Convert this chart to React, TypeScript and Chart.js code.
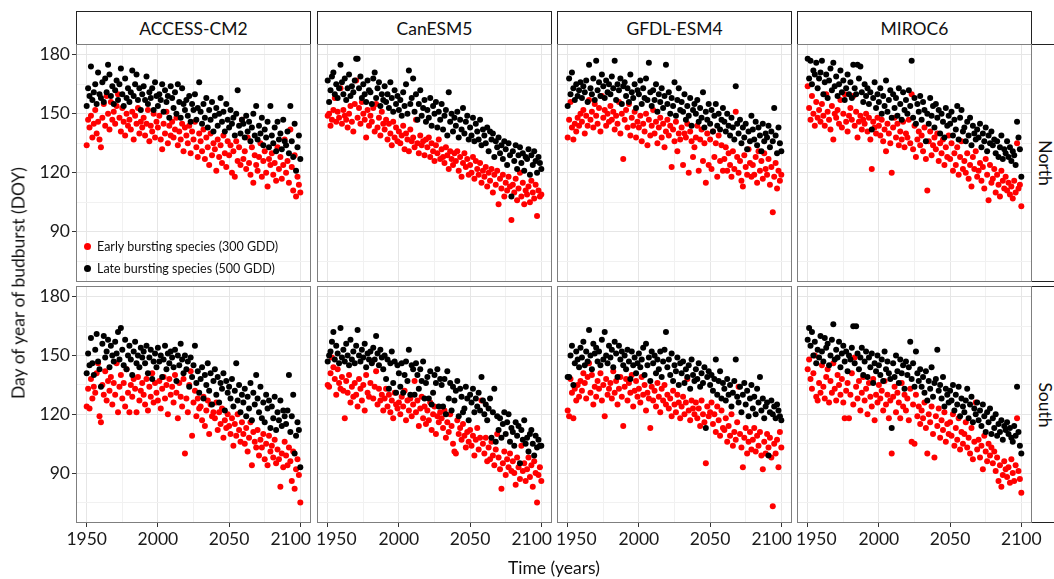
import React, { useEffect, useRef } from "react";
import { Chart, registerables } from "chart.js";

Chart.register(...registerables);

// ---------------- data ----------------
const FIRST_YEAR = 1950;
const LAST_YEAR = 2100;
const MODELS = ["ACCESS-CM2", "CanESM5", "GFDL-ESM4", "MIROC6"];
const REGIONS = ["North", "South"];
const X_TICK_LABELS = [1950, 2000, 2050, 2100];
const Y_TICK_LABELS = [90, 120, 150, 180];
const SERIES_LABELS = ["Early bursting species (300 GDD)", "Late bursting species (500 GDD)"];
const Y_TITLE = "Day of year of budburst (DOY)";
const X_TITLE = "Time (years)";

// ACCESS-CM2
const ACCESS_NORTH_LATE = [
  154, 163, 159, 174, 157, 161, 165, 155, 171, 160,
  158, 166, 156, 168, 161, 175, 170, 159, 164, 155,
  162, 167, 157, 165, 173, 160, 154, 168, 158, 163,
  156, 161, 172, 159, 165, 170, 157, 163, 152, 160,
  164, 157, 169, 155, 161, 158, 163, 152, 166, 159,
  154, 160, 157, 165, 151, 162, 156, 159, 148, 164,
  158, 153, 161, 150, 165, 156, 148, 163, 155, 152,
  157, 149, 159, 146, 155, 152, 160, 147, 153, 166,
  151, 145, 155, 148, 158, 143, 152, 147, 156, 141,
  149, 153, 144, 150, 158, 146, 151, 141, 155, 147,
  143, 152, 145, 148, 139, 150, 162, 144, 140, 147,
  145, 138, 149, 141, 146, 136, 143, 150, 139, 154,
  137, 144, 140, 148, 134, 142, 138, 146, 133, 154,
  139, 135, 143, 131, 146, 137, 140, 132, 147, 136,
  134, 141, 130, 154, 136, 128, 145, 121, 133, 139,
  127,
];
const ACCESS_NORTH_EARLY = [
  134, 147, 143, 149, 138, 145, 152, 140, 146, 137,
  133, 148, 155, 144, 159, 150, 142, 156, 147, 151,
  145, 154, 160, 148, 141, 153, 146, 139, 150, 144,
  147, 142, 151, 137, 149, 145, 153, 140, 146, 143,
  148, 139, 145, 152, 136, 144, 141, 150, 138, 146,
  143, 149, 137, 132, 145, 140, 151, 135, 144, 139,
  146, 138, 142, 148, 134, 141, 137, 145, 131, 143,
  139, 135, 144, 130, 141, 137, 146, 133, 128, 140,
  136, 131, 142, 127, 138, 133, 124, 140, 129, 135,
  132, 121, 137, 128, 134, 125, 139, 130, 123, 136,
  129, 134, 120, 131, 118, 136, 126, 133, 124, 147,
  127, 131, 122, 138, 125, 119, 133, 115, 129, 124,
  121, 128, 135, 118, 126, 131, 120, 113, 127, 124,
  130, 119, 125, 116, 133, 122, 128, 117, 124, 137,
  120, 126, 115, 142, 123, 111, 129, 108, 118, 114,
  110,
];
const ACCESS_SOUTH_LATE = [
  141, 151, 145, 159, 146, 140, 153, 161, 147, 143,
  134, 156, 160, 149, 152, 158, 144, 155, 150, 147,
  157, 151, 162, 148, 164, 153, 145, 158, 143, 150,
  155, 148, 140, 152, 157, 146, 150, 144, 154, 149,
  152, 146, 155, 141, 149, 153, 138, 147, 151, 144,
  154, 147, 150, 139, 148, 155, 143, 151, 146, 152,
  149, 144, 153, 137, 150, 145, 156, 148, 141, 150,
  143, 147, 134, 149, 139, 145, 155, 136, 142, 131,
  138, 144, 128, 140, 135, 146, 132, 141, 125, 137,
  143, 130, 139, 126, 136, 133, 141, 122, 137, 131,
  134, 128, 138, 124, 132, 146, 127, 135, 121, 130,
  126, 133, 119, 129, 123, 136, 117, 131, 125, 140,
  128, 121, 134, 118, 126, 116, 130, 123, 127, 113,
  124, 118, 129, 112, 121, 117, 127, 114, 122, 119,
  115, 122, 140, 111, 119, 130, 100, 109, 116, 112,
  93,
];
const ACCESS_SOUTH_EARLY = [
  124, 133, 123, 138, 128, 134, 131, 141, 146, 119,
  116, 135, 130, 142, 127, 137, 132, 139, 125, 136,
  130, 146, 121, 134, 140, 128, 136, 124, 143, 131,
  121, 135, 129, 138, 133, 121, 139, 127, 132, 136,
  130, 125, 138, 122, 134, 129, 141, 126, 136, 131,
  127, 137, 123, 133, 139, 128, 135, 120, 138, 130,
  134, 126, 140, 131, 118, 136, 129, 124, 138, 100,
  128, 121, 135, 142, 109, 126, 132, 119, 128, 123,
  124, 117, 129, 114, 122, 127, 110, 125, 119, 121,
  118, 126, 112, 121, 115, 123, 108, 117, 113, 120,
  114, 110, 118, 104, 115, 109, 120, 112, 106, 116,
  110, 105, 113, 101, 108, 116, 94, 111, 106, 103,
  112, 99, 107, 103, 110, 97, 105, 94, 109, 101,
  104, 98, 107, 95, 102, 97, 83, 100, 93, 106,
  99, 94, 103, 96, 86, 101, 82, 92, 97, 89,
  75,
];

// CanESM5
const CANESM_NORTH_LATE = [
  167, 156, 162, 169, 171, 160, 165, 158, 163, 175,
  166, 160, 168, 157, 163, 170, 159, 164, 161, 167,
  178, 178, 163, 169, 158, 165, 160, 156, 167, 162,
  161, 155, 168, 171, 158, 163, 166, 154, 160, 157,
  164, 156, 160, 153, 166, 158, 151, 162, 155, 159,
  152, 157, 149, 161, 154, 165, 150, 172, 155, 158,
  168, 151, 160, 147, 155, 162, 149, 153, 157, 146,
  152, 148, 158, 144, 154, 150, 156, 143, 151, 147,
  155, 142, 149, 152, 139, 161, 146, 150, 141, 148,
  144, 151, 138, 147, 142, 153, 140, 146, 149, 137,
  143, 139, 148, 136, 145, 141, 137, 147, 134, 142,
  139, 135, 143, 131, 141, 137, 140, 128, 136, 133,
  138, 130, 134, 127, 136, 132, 124, 135, 129, 108,
  131, 126, 134, 122, 129, 133, 125, 130, 121, 128,
  127, 132, 119, 129, 124, 131, 126, 120, 128, 125,
  122,
];
const CANESM_NORTH_EARLY = [
  149, 150, 144, 147, 152, 158, 146, 151, 148, 163,
  145, 152, 149, 147, 143, 150, 154, 146, 141, 155,
  167, 148, 153, 145, 156, 150, 147, 138, 152, 144,
  149, 146, 153, 141, 155, 143, 148, 139, 151, 145,
  142, 147, 137, 145, 140, 134, 146, 138, 143, 136,
  141, 135, 139, 144, 132, 140, 137, 131, 142, 136,
  138, 133, 147, 135, 130, 139, 134, 136, 129, 137,
  133, 138, 128, 135, 131, 126, 134, 130, 137, 127,
  132, 128, 125, 133, 129, 122, 131, 127, 124, 130,
  126, 131, 121, 128, 118, 125, 130, 123, 127, 119,
  124, 120, 128, 117, 126, 122, 119, 125, 115, 121,
  118, 123, 113, 120, 116, 122, 110, 119, 114, 121,
  104, 117, 112, 119, 108, 115, 111, 118, 113, 96,
  114, 110, 117, 106, 112, 120, 108, 115, 104, 111,
  109, 113, 105, 116, 110, 107, 114, 98, 111, 108,
  109,
];
const CANESM_SOUTH_LATE = [
  147, 150, 152, 157, 162, 148, 155, 151, 146, 164,
  149, 153, 147, 156, 150, 145, 158, 148, 152, 146,
  155, 163, 150, 147, 153, 149, 156, 144, 151, 148,
  152, 146, 154, 148, 160, 151, 145, 153, 149, 143,
  150, 138, 148, 133, 146, 152, 136, 147, 131, 145,
  141, 134, 146, 131, 140, 147, 137, 153, 130, 145,
  143, 130, 146, 140, 133, 143, 137, 147, 128, 136,
  139, 128, 142, 125, 131, 140, 136, 143, 124, 138,
  135, 124, 138, 120, 142, 128, 136, 122, 134, 127,
  132, 137, 119, 133, 129, 121, 123, 134, 128, 117,
  130, 126, 133, 121, 128, 124, 131, 122, 139, 127,
  120, 125, 117, 123, 128, 108, 121, 133, 106, 119,
  112, 118, 108, 115, 121, 110, 116, 120, 106, 113,
  111, 104, 116, 109, 114, 95, 112, 107, 117, 105,
  108, 101, 110, 112, 105, 99, 109, 103, 107, 104,
  104,
];
const CANESM_SOUTH_EARLY = [
  135, 134, 141, 149, 144, 138, 130, 143, 136, 133,
  139, 132, 118, 137, 131, 140, 126, 134, 129, 136,
  130, 124, 138, 133, 127, 135, 122, 140, 131, 129,
  136, 147, 128, 134, 142, 125, 133, 127, 130, 122,
  128, 133, 124, 130, 121, 127, 118, 131, 125, 123,
  126, 120, 129, 124, 132, 117, 127, 122, 128, 119,
  125, 137, 121, 127, 114, 123, 129, 118, 124, 115,
  122, 117, 126, 112, 120, 124, 110, 119, 116, 121,
  118, 113, 122, 108, 116, 111, 120, 114, 105, 101,
  100, 117, 110, 113, 107, 115, 109, 103, 111, 106,
  112, 104, 109, 99, 107, 113, 102, 108, 127, 105,
  100, 108, 96, 103, 97, 106, 99, 94, 102, 110,
  98, 92, 82, 95, 101, 89, 97, 93, 100, 91,
  96, 90, 84, 98, 93, 87, 104, 91, 95, 86,
  92, 98, 88, 94, 83, 96, 90, 75, 89, 93,
  86,
];

// GFDL-ESM4
const GFDL_NORTH_LATE = [
  154, 168, 160, 171, 163, 157, 165, 159, 162, 166,
  158, 164, 161, 167, 156, 175, 163, 160, 168, 157,
  177, 162, 166, 159, 170, 164, 158, 167, 161, 165,
  160, 169, 163, 177, 157, 165, 162, 168, 155, 164,
  166, 159, 163, 156, 170, 161, 158, 165, 153, 162,
  160, 167, 155, 163, 158, 168, 157, 176, 161, 154,
  162, 157, 165, 151, 160, 156, 163, 153, 159, 175,
  155, 161, 150, 158, 154, 166, 149, 157, 163, 152,
  156, 151, 160, 147, 154, 149, 158, 144, 152, 155,
  150, 157, 146, 153, 148, 161, 143, 151, 147, 155,
  145, 152, 141, 149, 155, 144, 150, 142, 147, 153,
  146, 141, 150, 144, 139, 148, 143, 137, 164, 145,
  140, 147, 135, 143, 138, 145, 132, 141, 136, 149,
  142, 137, 146, 134, 143, 139, 131, 145, 136, 140,
  138, 144, 133, 141, 136, 153, 139, 130, 143, 135,
  131,
];
const GFDL_NORTH_EARLY = [
  138, 147, 156, 143, 137, 145, 141, 148, 144, 150,
  146, 152, 140, 149, 144, 157, 147, 151, 143, 155,
  149, 145, 153, 141, 159, 148, 152, 144, 150, 146,
  154, 147, 151, 142, 149, 145, 156, 140, 150, 127,
  147, 152, 143, 155, 139, 148, 144, 151, 138, 146,
  143, 149, 136, 145, 141, 150, 134, 147, 139, 144,
  152, 140, 146, 135, 143, 148, 138, 145, 133, 141,
  147, 139, 144, 123, 142, 136, 146, 131, 140, 137,
  143, 124, 140, 138, 145, 120, 141, 136, 128, 133,
  138, 144, 121, 137, 142, 126, 135, 115, 140, 124,
  137, 122, 141, 128, 135, 118, 139, 126, 134, 121,
  127, 133, 121, 130, 124, 118, 131, 122, 151, 128,
  120, 126, 116, 113, 129, 123, 119, 132, 125, 118,
  124, 119, 128, 115, 131, 121, 126, 117, 130, 122,
  119, 127, 114, 123, 100, 118, 125, 112, 121, 116,
  119,
];
const GFDL_SOUTH_LATE = [
  139, 139, 150, 155, 135, 146, 152, 148, 144, 154,
  149, 157, 145, 152, 147, 163, 150, 143, 156, 151,
  154, 147, 152, 145, 158, 148, 162, 150, 146, 155,
  149, 153, 144, 157, 151, 139, 155, 148, 152, 145,
  150, 143, 153, 147, 138, 152, 145, 149, 141, 146,
  151, 144, 148, 154, 140, 156, 145, 149, 137, 152,
  146, 150, 141, 148, 143, 152, 139, 147, 153, 162,
  144, 148, 140, 151, 137, 145, 142, 149, 135, 146,
  141, 147, 136, 143, 139, 145, 133, 148, 140, 137,
  143, 138, 146, 134, 141, 136, 144, 113, 139, 142,
  135, 140, 132, 138, 148, 130, 137, 142, 128, 136,
  133, 127, 138, 130, 135, 124, 131, 137, 148, 129,
  126, 134, 121, 130, 136, 125, 132, 119, 128, 135,
  123, 129, 120, 133, 126, 139, 122, 128, 118, 124,
  126, 99, 121, 127, 120, 124, 118, 125, 122, 119,
  117,
];
const GFDL_SOUTH_EARLY = [
  122, 119, 138, 131, 118, 133, 127, 135, 129, 137,
  132, 141, 136, 128, 139, 146, 131, 140, 125, 134,
  129, 137, 133, 141, 127, 135, 119, 138, 130, 133,
  136, 128, 142, 131, 137, 125, 133, 139, 129, 114,
  134, 138, 127, 136, 131, 140, 124, 132, 137, 129,
  133, 126, 139, 130, 135, 122, 131, 128, 113, 134,
  127, 132, 124, 136, 129, 121, 133, 127, 135, 125,
  130, 123, 128, 119, 132, 125, 121, 130, 126, 118,
  124, 129, 120, 126, 138, 122, 117, 127, 123, 120,
  126, 118, 123, 114, 127, 120, 116, 95, 124, 119,
  121, 126, 115, 120, 111, 124, 117, 109, 122, 113,
  112, 118, 106, 114, 109, 120, 104, 111, 107, 116,
  134, 110, 103, 93, 108, 113, 100, 106, 111, 102,
  107, 113, 101, 109, 104, 111, 99, 92, 106, 100,
  110, 103, 108, 98, 73, 105, 100, 107, 93, 111,
  103,
];

// MIROC6
const MIROC_NORTH_LATE = [
  178, 168, 177, 165, 172, 170, 176, 163, 168, 171,
  177, 160, 166, 170, 158, 167, 173, 162, 176, 164,
  169, 159, 165, 172, 161, 167, 157, 163, 170, 160,
  166, 158, 175, 163, 160, 175, 168, 174, 161, 156,
  165, 159, 163, 155, 161, 142, 158, 166, 153, 160,
  156, 163, 150, 159, 154, 167, 151, 157, 162, 148,
  160, 153, 158, 149, 163, 155, 147, 161, 152, 157,
  150, 162, 154, 177, 148, 158, 145, 155, 151, 159,
  147, 156, 152, 136, 150, 145, 158, 149, 154, 143,
  155, 148, 152, 140, 150, 146, 138, 153, 144, 149,
  145, 151, 139, 147, 142, 154, 137, 148, 152, 141,
  143, 136, 146, 139, 148, 134, 144, 140, 137, 142,
  138, 145, 133, 140, 136, 143, 131, 139, 135, 141,
  134, 137, 130, 136, 128, 133, 139, 127, 132, 130,
  136, 128, 133, 126, 131, 129, 124, 146, 138, 132,
  118,
];
const MIROC_NORTH_EARLY = [
  164, 153, 147, 159, 150, 144, 156, 148, 152, 146,
  155, 149, 144, 160, 151, 147, 142, 154, 137, 150,
  148, 152, 145, 157, 143, 150, 160, 146, 141, 149,
  153, 147, 159, 144, 151, 138, 146, 149, 142, 147,
  145, 150, 141, 148, 137, 122, 146, 143, 140, 148,
  144, 139, 147, 136, 142, 131, 145, 140, 135, 120,
  143, 148, 138, 145, 134, 141, 137, 146, 133, 140,
  138, 147, 135, 160, 132, 144, 128, 137, 141, 134,
  139, 131, 143, 127, 111, 136, 141, 129, 134, 138,
  132, 140, 126, 135, 130, 137, 124, 133, 128, 139,
  127, 135, 121, 130, 124, 133, 119, 128, 136, 122,
  126, 120, 130, 117, 124, 113, 128, 122, 131, 118,
  121, 125, 116, 123, 112, 127, 119, 106, 124, 115,
  117, 122, 110, 119, 114, 108, 121, 116, 112, 118,
  111, 115, 109, 113, 107, 116, 110, 135, 112, 114,
  103,
];
const MIROC_SOUTH_LATE = [
  158, 164, 155, 162, 150, 157, 146, 153, 149, 160,
  152, 147, 159, 154, 156, 145, 150, 158, 166, 148,
  153, 149, 157, 144, 151, 155, 147, 152, 142, 150,
  148, 154, 165, 146, 165, 151, 143, 149, 154, 140,
  147, 152, 139, 149, 144, 151, 136, 146, 142, 150,
  145, 140, 148, 137, 152, 143, 147, 141, 138, 113,
  146, 139, 150, 142, 136, 148, 141, 145, 133, 147,
  140, 144, 157, 138, 146, 134, 152, 141, 137, 143,
  134, 139, 131, 142, 127, 137, 133, 144, 129, 136,
  138, 153, 132, 135, 128, 139, 124, 133, 130, 126,
  132, 127, 135, 122, 130, 125, 134, 119, 128, 124,
  121, 127, 133, 118, 125, 129, 116, 123, 120, 126,
  117, 122, 114, 125, 119, 111, 121, 116, 123, 110,
  118, 113, 120, 109, 115, 111, 117, 107, 114, 112,
  116, 110, 113, 108, 106, 114, 109, 134, 111, 104,
  100,
];
const MIROC_SOUTH_EARLY = [
  143, 148, 138, 133, 141, 150, 129, 127, 136, 131,
  145, 134, 128, 139, 143, 126, 137, 131, 146, 133,
  127, 140, 135, 130, 138, 126, 118, 132, 136, 118,
  130, 141, 125, 149, 134, 128, 137, 122, 131, 139,
  127, 133, 120, 136, 129, 124, 138, 117, 130, 126,
  135, 128, 132, 122, 137, 125, 130, 118, 127, 100,
  129, 134, 121, 131, 126, 118, 136, 124, 130, 122,
  128, 117, 133, 106, 125, 105, 130, 119, 124, 115,
  122, 118, 126, 113, 100, 120, 116, 124, 110, 98,
  119, 114, 123, 108, 117, 112, 121, 106, 115, 110,
  116, 109, 120, 104, 113, 107, 118, 102, 111, 105,
  110, 116, 103, 108, 100, 113, 97, 106, 126, 102,
  107, 98, 104, 92, 109, 101, 96, 105, 99, 103,
  95, 101, 91, 98, 86, 94, 83, 89, 96, 92,
  88, 93, 85, 97, 90, 86, 94, 118, 91, 87,
  80,
];

const PANEL_DATA = [
  [
    { early: ACCESS_NORTH_EARLY, late: ACCESS_NORTH_LATE },
    { early: CANESM_NORTH_EARLY, late: CANESM_NORTH_LATE },
    { early: GFDL_NORTH_EARLY, late: GFDL_NORTH_LATE },
    { early: MIROC_NORTH_EARLY, late: MIROC_NORTH_LATE },
  ],
  [
    { early: ACCESS_SOUTH_EARLY, late: ACCESS_SOUTH_LATE },
    { early: CANESM_SOUTH_EARLY, late: CANESM_SOUTH_LATE },
    { early: GFDL_SOUTH_EARLY, late: GFDL_SOUTH_LATE },
    { early: MIROC_SOUTH_EARLY, late: MIROC_SOUTH_LATE },
  ],
];

const YEARS = Array.from({ length: LAST_YEAR - FIRST_YEAR + 1 }, (_, i) => FIRST_YEAR + i);

// ---------------- layout / style ----------------
const FONT = "Lato, 'Open Sans', 'DejaVu Sans', sans-serif";
const RED = "#ff0000";
const BLACK = "#000000";
const X_MIN = 1942.5;
const X_MAX = 2107.5;
const Y_MIN = 64.5;
const Y_MAX = 185.5;
const PANEL_LEFT = [76, 317, 557, 797];
const PANEL_W = 235;
const PANEL_TOP = [44, 286];
const PANEL_H = [238, 237];
const PAD = 25;
const PAD_V = 15;
const Y_AXIS_W = 45;
const X_AXIS_H = 40;
const TICK_FONT = 17.5;
const POINT_R = 3;
const GRID_MAJOR = "#e6e6e6";
const GRID_MINOR = "#f1f1f1";

const panelBorder = {
  id: "panelBorder",
  afterDraw(chart: any) {
    const { ctx, chartArea: a } = chart;
    ctx.save();
    ctx.strokeStyle = "#7f7f7f";
    ctx.lineWidth = 1;
    ctx.strokeRect(Math.round(a.left) + 0.5, Math.round(a.top) + 0.5, Math.round(a.right - a.left) - 1, Math.round(a.bottom - a.top) - 1);
    ctx.restore();
  },
};

// keeps the outer tick labels of inner panels inside their own panel, as in the source figure
const edgeLabels = {
  id: "edgeLabels",
  beforeDraw(chart: any, _args: any, opts: any) {
    const scale = chart.scales.x;
    if (!scale || !scale.options.ticks.display) return;
    const items = scale.getLabelItems(chart.chartArea);
    const a = chart.chartArea;
    items.forEach((it: any) => {
      if (opts.clampLeft && it.label === String(X_TICK_LABELS[0])) {
        it.options.textAlign = "left";
        it.options.translation[0] = a.left - 1;
      }
      if (opts.clampRight && it.label === String(X_TICK_LABELS[X_TICK_LABELS.length - 1])) {
        it.options.textAlign = "right";
        it.options.translation[0] = a.right;
      }
    });
  },
};

function Panel({ row, col }: { row: number; col: number }) {
  const ref = useRef<HTMLCanvasElement>(null);
  const axisW = col === 0 ? Y_AXIS_W : 0;
  const axisH = row === 1 ? X_AXIS_H : 0;
  const w = PAD + axisW + PANEL_W + PAD;
  const h = PAD_V + PANEL_H[row] + axisH + PAD_V;

  useEffect(() => {
    const { early, late } = PANEL_DATA[row][col];
    const toPts = (arr: number[]) => arr.map((v, i) => ({ x: YEARS[i], y: v }));
    const isXMajor = (v: number) => X_TICK_LABELS.includes(v);
    const isYMajor = (v: number) => Y_TICK_LABELS.includes(v);
    const chart = new Chart(ref.current as HTMLCanvasElement, {
      type: "scatter",
      data: {
        datasets: [
          { label: SERIES_LABELS[1], data: toPts(late), backgroundColor: BLACK, borderWidth: 0, pointRadius: POINT_R, pointHoverRadius: POINT_R },
          { label: SERIES_LABELS[0], data: toPts(early), backgroundColor: RED, borderWidth: 0, pointRadius: POINT_R, pointHoverRadius: POINT_R },
        ],
      },
      options: {
        animation: false,
        responsive: false,
        devicePixelRatio: 1,
        events: [],
        layout: { padding: { left: PAD, right: PAD, top: PAD_V, bottom: PAD_V } },
        plugins: {
          legend: { display: false },
          tooltip: { enabled: false },
          edgeLabels: { clampLeft: col > 0, clampRight: col < 3 },
        },
        scales: {
          x: {
            type: "linear",
            min: X_MIN,
            max: X_MAX,
            afterFit: (s: any) => { s.height = axisH; },
            border: { display: false },
            grid: {
              color: (c: any) => (c.tick && isXMajor(c.tick.value) ? GRID_MAJOR : GRID_MINOR),
              lineWidth: 1,
              drawTicks: row === 1,
              tickLength: 4,
              tickColor: (c: any) => (c.tick && isXMajor(c.tick.value) ? "#333333" : "rgba(0,0,0,0)"),
            },
            ticks: {
              display: row === 1,
              stepSize: 25,
              includeBounds: false,
              autoSkip: false,
              maxRotation: 0,
              minRotation: 0,
              padding: 2,
              color: "#1a1a1a",
              font: { family: FONT, size: TICK_FONT },
              callback: (v: any) => (isXMajor(Number(v)) ? String(v) : ""),
            },
          },
          y: {
            type: "linear",
            min: Y_MIN,
            max: Y_MAX,
            afterFit: (s: any) => { s.width = axisW; },
            border: { display: false },
            grid: {
              color: (c: any) => (c.tick && isYMajor(c.tick.value) ? GRID_MAJOR : GRID_MINOR),
              lineWidth: 1,
              drawTicks: col === 0,
              tickLength: 4,
              tickColor: (c: any) => (c.tick && isYMajor(c.tick.value) ? "#333333" : "rgba(0,0,0,0)"),
            },
            ticks: {
              display: col === 0,
              stepSize: 15,
              includeBounds: false,
              autoSkip: false,
              padding: 2,
              color: "#1a1a1a",
              font: { family: FONT, size: TICK_FONT },
              callback: (v: any) => (isYMajor(Number(v)) ? String(v) : ""),
            },
          },
        },
      } as any,
      plugins: [panelBorder, edgeLabels],
    });
    return () => chart.destroy();
  }, [row, col]);

  return (
    <canvas
      ref={ref}
      width={w}
      height={h}
      style={{ position: "absolute", left: PANEL_LEFT[col] - axisW - PAD, top: PANEL_TOP[row] - PAD_V, width: w, height: h }}
    />
  );
}

export default function App() {
  const textBase: React.CSSProperties = { position: "absolute", fontFamily: FONT, color: "#111", whiteSpace: "nowrap" };
  return (
    <div style={{ position: "fixed", left: 0, top: 0, width: 1054, height: 579, overflow: "hidden", background: "#fff" }}>
      {MODELS.map((m, c) => (
        <div
          key={m}
          style={{
            position: "absolute", left: PANEL_LEFT[c], top: 11, width: PANEL_W, height: 34, boxSizing: "border-box",
            border: "1px solid #222", background: "#fff", display: "flex", alignItems: "center", justifyContent: "center",
            fontFamily: FONT, fontSize: 17.5, color: "#111",
          }}
        >
          {m}
        </div>
      ))}
      {REGIONS.map((r, i) => (
        <div
          key={r}
          style={{
            position: "absolute", left: PANEL_LEFT[3] + PANEL_W - 1, top: PANEL_TOP[i], width: 40, height: PANEL_H[i],
            boxSizing: "border-box", border: "1px solid #222", background: "#fff",
          }}
        />
      ))}
      {REGIONS.map((r, i) => (
        <div
          key={r + "t"}
          style={{ ...textBase, left: 1045, top: PANEL_TOP[i] + PANEL_H[i] / 2, fontSize: 17.5, transform: "translate(-50%, -50%) rotate(90deg)" }}
        >
          {r}
        </div>
      ))}
      {[0, 1].map((row) => [0, 1, 2, 3].map((col) => <Panel key={row + "-" + col} row={row} col={col} />))}
      <div style={{ ...textBase, left: 18, top: 283, fontSize: 17.5, transform: "translate(-50%, -50%) rotate(-90deg)" }}>{Y_TITLE}</div>
      <div style={{ ...textBase, left: 554, top: 567, fontSize: 17.5, transform: "translate(-50%, -50%)" }}>{X_TITLE}</div>
      {/* legend */}
      {[0, 1].map((i) => (
        <div key={"lg" + i} style={{ position: "absolute", left: 84, top: 239 + i * 22, height: 14, display: "flex", alignItems: "center" }}>
          <div style={{ width: 7, height: 7, borderRadius: "50%", background: i === 0 ? RED : BLACK, marginRight: 6 }} />
          <div style={{ fontFamily: FONT, fontSize: 12.5, color: "#111", whiteSpace: "nowrap" }}>{SERIES_LABELS[i]}</div>
        </div>
      ))}
    </div>
  );
}
